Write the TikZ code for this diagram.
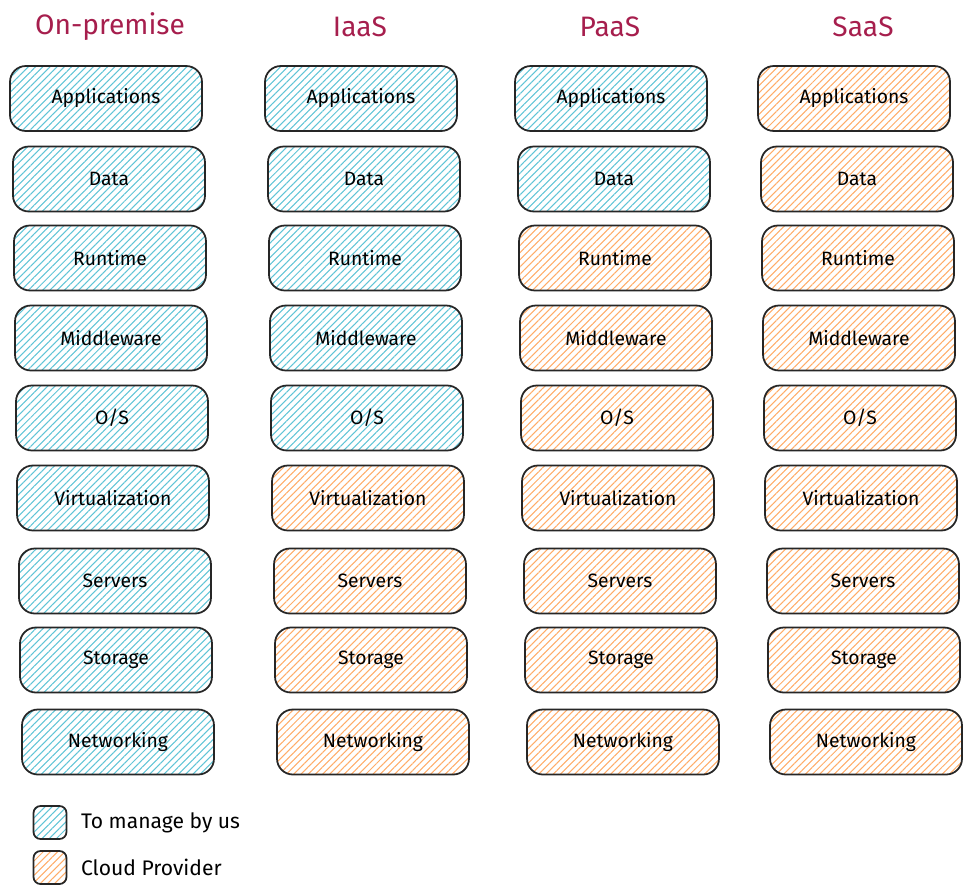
\documentclass[tikz,border=0pt]{standalone}
\usepackage{fontspec}
\setmainfont{Fira Sans}
\usetikzlibrary{patterns.meta, positioning}

\definecolor{ourhatch}{RGB}{96,196,214}
\definecolor{cloudhatch}{RGB}{255,172,104}
\definecolor{titlered}{RGB}{166,30,77}

\tikzset{
  layer/.style={draw=black!85, line width=1pt, rounded corners=9pt,
    minimum width=3.84cm, minimum height=1.3cm, font=\fontsize{11}{13}\selectfont},
  ours/.style={layer, pattern={Lines[angle=45, distance=2.9pt, line width=0.6pt]}, pattern color=ourhatch},
  cloud/.style={layer, pattern={Lines[angle=45, distance=2.9pt, line width=0.6pt]}, pattern color=cloudhatch},
  key/.style={minimum width=0.66cm, minimum height=0.66cm, rounded corners=4pt},
  coltitle/.style={text=titlered, font=\fontsize{16}{19}\selectfont}
}

\begin{document}
\begin{tikzpicture}[x=0.02cm, y=-0.02cm]
  \useasboundingbox (0,0) rectangle (972,895);
  % column titles
  \node[coltitle] (t1) at (110,27) {On-premise};
  \node[coltitle] (t2) at (360,27) {IaaS};
  \node[coltitle] (t3) at (610,27) {PaaS};
  \node[coltitle] (t4) at (863,27) {SaaS};
  % stack of layers, first \ncyan rows are managed by us
  \foreach \lbl/\yy/\dx [count=\r] in {Applications/98.5/0, Data/179/3, Runtime/258/4,
      Middleware/338/5, {O/S}/418/6, Virtualization/498/7, Servers/581/9,
      Storage/660/10, Networking/742/12} {
    \foreach \xx/\ncyan [count=\c] in {106/9, 361/5, 611/2, 854/0} {
      \ifnum\r>\ncyan \def\sty{cloud}\else\def\sty{ours}\fi
      \node[\sty] (c\c r\r) at (\xx+\dx,\yy) {\lbl};
    }
  }
  % legend
  \node[ours, key] (k1) at (50,822.5) {};
  \node[cloud, key] (k2) at (50,867.5) {};
  \node[right=0.15cm of k1, font=\fontsize{12}{14}\selectfont] (l1) {To manage by us};
  \node[right=0.15cm of k2, font=\fontsize{12}{14}\selectfont] (l2) {Cloud Provider};
\end{tikzpicture}
\end{document}
